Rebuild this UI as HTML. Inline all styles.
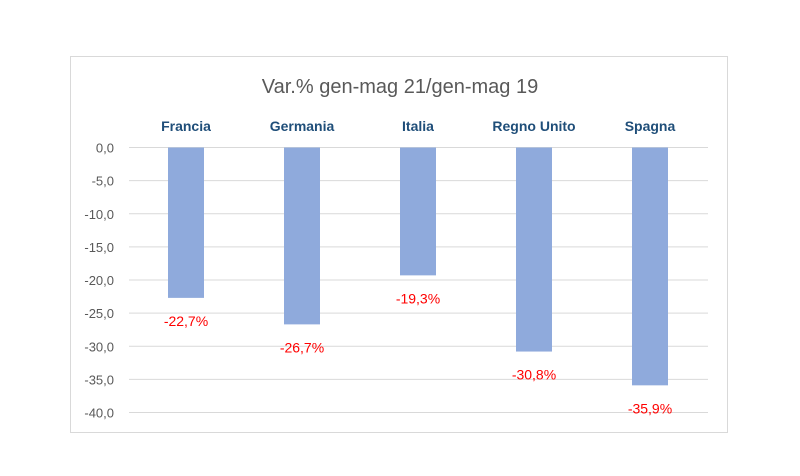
<!DOCTYPE html>
<html><head><meta charset="utf-8"><style>
body{margin:0;background:#fff;width:800px;height:471px;overflow:hidden;font-family:"Liberation Sans",sans-serif}
</style></head><body>
<svg width="800" height="471">
<rect x="70.5" y="56.5" width="657" height="376" fill="#fff" stroke="#d9d9d9"/>
<text x="400" y="93" text-anchor="middle" font-size="20" fill="#595959">Var.% gen-mag 21/gen-mag 19</text>
<g id="grid"></g><g id="bars"></g>
</svg>
<script>
const categories=["Francia","Germania","Italia","Regno Unito","Spagna"];
const values=[-22.7,-26.7,-19.3,-30.8,-35.9];
const labels=["-22,7%","-26,7%","-19,3%","-30,8%","-35,9%"];
const ticks=[0,-5,-10,-15,-20,-25,-30,-35,-40];
const tickLabels=["0,0","-5,0","-10,0","-15,0","-20,0","-25,0","-30,0","-35,0","-40,0"];
const ns="http://www.w3.org/2000/svg";
const y=v=>147.5-v*(-265/40)*-1*-1*1;
function Y(v){return 147.5+(-v)*265/40;}
function X(i){return 186+i*116;}
function mk(t,a,p){const e=document.createElementNS(ns,t);for(const k in a)e.setAttribute(k,a[k]);p.appendChild(e);return e;}
const g=document.getElementById('grid'),b=document.getElementById('bars');
ticks.forEach((t,i)=>{
const l=mk('line',{x1:129,x2:708,y1:Y(t),y2:Y(t),stroke:'#d9d9d9','stroke-width':1},g);


const tx=mk('text',{x:114,y:Y(t)+5,'text-anchor':'end','font-size':13,fill:'#595959'},g);
tx.textContent=tickLabels[i];


});
categories.forEach((c,i)=>{
const ct=mk('text',{x:X(i),y:131,'text-anchor':'middle','font-size':14,'font-weight':'bold',fill:'#1f4e79'},b);
ct.textContent=c;


const r=mk('rect',{x:X(i)-18,y:Y(0),width:36,height:Y(values[i])-Y(0),fill:'#8faadc'},b);


const vl=mk('text',{x:X(i),y:Y(values[i])+28,'text-anchor':'middle','font-size':14,fill:'#ff0000'},b);
vl.textContent=labels[i];


});
</script>
</body></html>
